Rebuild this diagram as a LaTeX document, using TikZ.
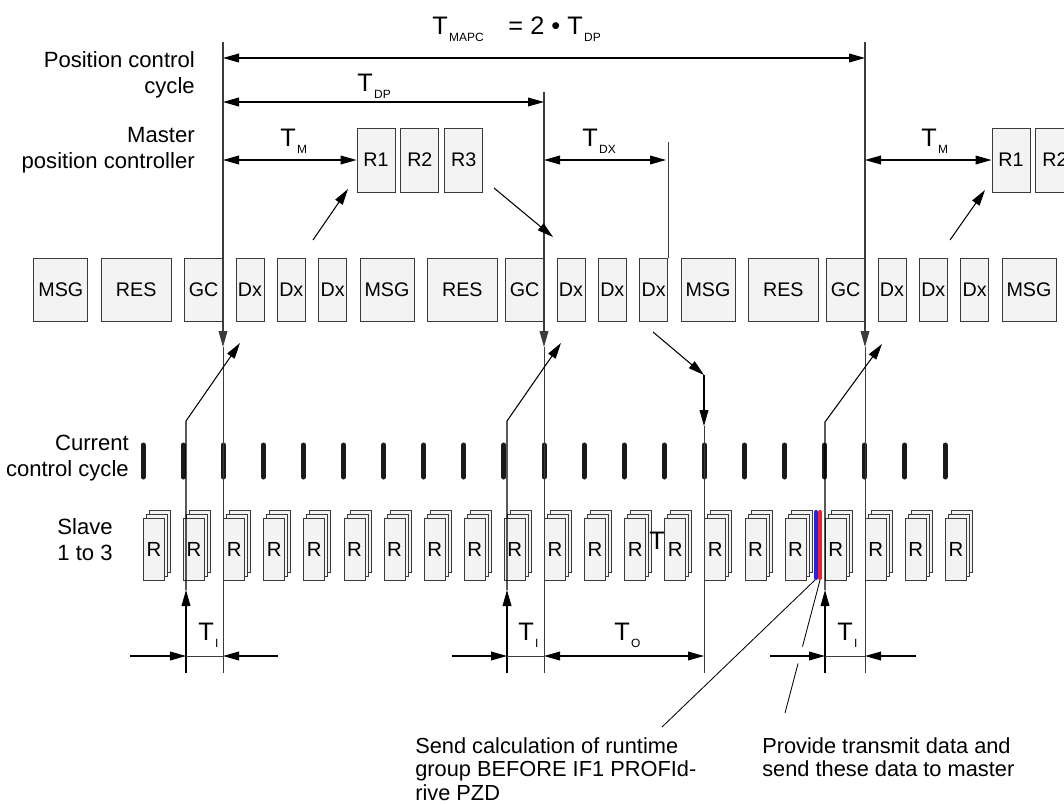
\documentclass[tikz,border=0pt]{standalone}
\usepackage{fontspec}
\setmainfont{Liberation Sans}
\usetikzlibrary{arrows.meta,positioning,calc}
\definecolor{boxgray}{HTML}{F2F3F2}
\definecolor{edgegray}{HTML}{3A3A3A}
\definecolor{linegray}{HTML}{3C3C3C}
\definecolor{barblack}{HTML}{1A1A1A}
\definecolor{sendblue}{HTML}{2424E8}
\definecolor{sendred}{HTML}{F02424}

\newcommand{\tsub}[1]{T\kern1pt\raisebox{-5.5pt}{\fontsize{8.5}{8.5}\selectfont #1}}

\begin{document}
\begin{tikzpicture}[x=0.025cm,y=-0.025cm,
  blk/.style={draw=edgegray,fill=boxgray,line width=0.6pt,minimum height=1.575cm,inner sep=0pt,font=\fontsize{14}{16}\selectfont},
  gc/.style={blk,minimum width=0.95cm},
  dx/.style={blk,minimum width=0.7cm},
  msg/.style={blk,minimum width=1.35cm},
  res/.style={blk,minimum width=1.75cm},
  rbox/.style={blk,minimum width=0.95cm,minimum height=1.6cm},
  sheet/.style={draw=edgegray,fill=boxgray,line width=0.6pt,minimum width=0.525cm,minimum height=1.55cm,inner sep=0pt,font=\fontsize{14.5}{16}\selectfont},
  tl/.style={font=\fontsize{18}{18}\selectfont,inner sep=0pt,anchor=base west},
  lbl/.style={font=\fontsize{15.7}{18.5}\selectfont,align=right,anchor=east,inner sep=0pt},
  note/.style={font=\fontsize{15.5}{17}\selectfont,align=left,anchor=north west,inner sep=0pt},
  tip/.tip={Triangle[length=0.4cm,width=0.22cm]},
  arr/.style={-tip,line width=0.75pt},
  dim/.style={tip-tip,line width=0.75pt},
  vline/.style={linegray,line width=0.7pt},
  bar/.style={barblack,line width=0.125cm,line cap=round},
  node distance=0.3125cm
]
\clip (0,0) rectangle (1064,804);

% row labels
\node[lbl] (pcc) at (195,75) {Position control\\cycle};
\node[lbl] (mpc) at (195,150) {Master\\position controller};
\node[lbl] (ccc) at (129,458) {Current\\control cycle};
\node[lbl,align=center,anchor=center] (slv) at (85,540) {Slave\\1 to 3};

% master position controller
\node[rbox] (r1) at (376,160) {R1};
\node[rbox,right=0.125cm of r1] (r2) {R2};
\node[rbox,right=0.125cm of r2] (r3) {R3};
\node[rbox] (r1b) at (1011,160) {R1};
\node[rbox,right=0.125cm of r1b] (r2b) {R2};

% bus cycle
\node[gc,anchor=east] (gc1) at (223,290) {GC};
\node[res,left=of gc1] (res0) {RES};
\node[msg,left=of res0] (msg0) {MSG};
\node[gc,anchor=east] (gc2) at (544,290) {GC};
\node[gc,anchor=east] (gc3) at (865,290) {GC};
\foreach \c in {1,2,3}{
  \node[dx,right=of gc\c] (dxa\c) {Dx};
  \node[dx,right=of dxa\c] (dxb\c) {Dx};
  \node[dx,right=of dxb\c] (dxc\c) {Dx};
  \node[msg,right=of dxc\c] (msg\c) {MSG};
}
\foreach \c in {1,2}
  \node[res,right=of msg\c] (res\c) {RES};

% current control cycle and slaves
\foreach \k in {0,...,20}{
  \draw[bar] (143+40.1*\k,445) -- (143+40.1*\k,477);
  \node[sheet,anchor=north west] at (149+40.1*\k,510) {};
  \node[sheet,anchor=north west] at (146+40.1*\k,514) {};
  \node[sheet,anchor=north west] (s\k) at (143+40.1*\k,518) {R};
}
\node[tl] (stray) at (649,549) {T};
\draw[sendblue,line width=3pt,line cap=round] (816,512) -- (816,578);
\draw[sendred,line width=3pt,line cap=round] (820,512) -- (820,578);
\coordinate (bluefoot) at (815,580);
\coordinate (redfoot) at (820,580);

% cycle boundaries
\coordinate (l1top) at (223,42);
\coordinate (l2top) at (544,92);
\coordinate (l3top) at (865,42);
\coordinate (l1bot) at (223,673);
\coordinate (l2bot) at (544,673);
\coordinate (l3bot) at (865,673);
\draw[vline,arr] (l1top) -- (223,347);
\draw[vline] (223,347) -- (l1bot);
\draw[vline,arr] (l2top) -- (544,347);
\draw[vline] (544,347) -- (l2bot);
\draw[vline,arr] (l3top) -- (865,347);
\draw[vline] (865,347) -- (l3bot);
\draw[vline] (dxc2.north east) -- ++(0,-116) coordinate (dxtop);

% times
\draw[dim] (223,58) -- (865,58);
\node[tl] (tmapc) at (432,34) {\tsub{MAPC}\hspace{0.62cm}= 2 \textbullet{} \tsub{DP}};
\draw[dim] (223,102) -- (544,102);
\node[tl] (tdp) at (357,91) {\tsub{DP}};
\draw[dim] (223,160) -- (r1.west);
\node[tl] (tm) at (280,146) {\tsub{M}};
\draw[dim] (544,160) -- (666,160);
\node[tl] (tdx) at (582,146) {\tsub{DX}};
\draw[dim] (865,160) -- (r1b.west);
\node[tl] (tmb) at (921,146) {\tsub{M}};

% data flow
\draw[arr] (313,240) -- (348,189);
\draw[arr] (950,240) -- (985,190);
\draw[arr] (494,188) -- (553,237);
\draw[arr] (653,332) -- (704,375);
\draw[arr] (704,375) -- (704,426);
\draw[vline] (704,426) -- (704,673);
\draw[arr] (186,673) -- (186,590);
\draw[arr] (186,590) -- (186,421) -- (240,343);
\draw[arr] (507,673) -- (507,590);
\draw[arr] (507,590) -- (507,421) -- (561,343);
\draw[arr] (825,673) -- (825,590);
\draw[arr] (825,590) -- (825,422) -- (882,344);

% T_I and T_O
\draw[arr] (130,656) -- (186,656);
\draw[vline] (186,656) -- (223,656);
\draw[arr] (278,656) -- (223,656);
\node[tl] (ti1) at (198,640) {\tsub{I}};
\draw[arr] (452,656) -- (507,656);
\draw[vline] (507,656) -- (544,656);
\draw[dim] (544,656) -- (704,656);
\node[tl] (ti2) at (518,640) {\tsub{I}};
\node[tl] (to) at (614,640) {\tsub{O}};
\draw[arr] (770,656) -- (825,656);
\draw[vline] (825,656) -- (865,656);
\draw[arr] (916,656) -- (865,656);
\node[tl] (ti3) at (837,640) {\tsub{I}};

% notes
\node[note] (sendtxt) at (415,737) {Send calculation of runtime\\group BEFORE IF1 PROFId-\\rive PZD};
\node[note] (provtxt) at (762,737) {Provide transmit data and\\send these data to master};
\coordinate (sendend) at (662,727);
\coordinate (provend) at (785,713);
\draw[line width=0.6pt] (bluefoot) -- (sendend);
\draw[line width=0.6pt] (redfoot) -- ($(redfoot)!0.5!(provend)$);
\draw[line width=0.6pt] ($(redfoot)!0.627!(provend)$) -- (provend);
\end{tikzpicture}
\end{document}
